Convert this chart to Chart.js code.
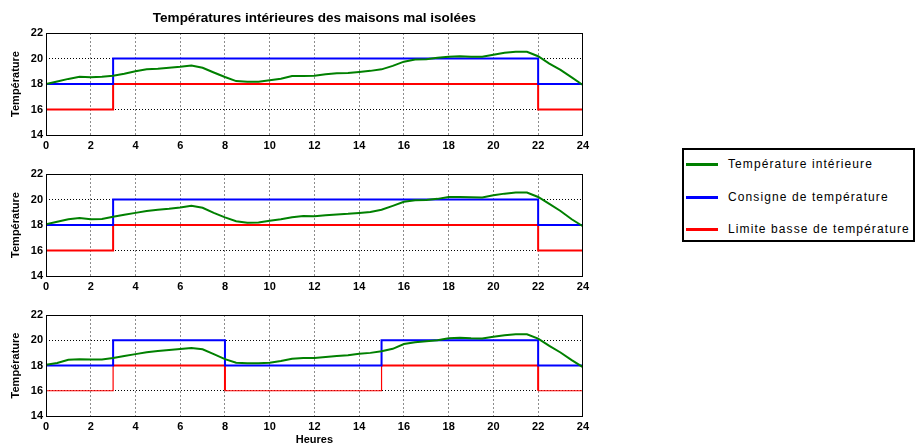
<!DOCTYPE html>
<html><head><meta charset="utf-8">
<script src="https://cdn.jsdelivr.net/npm/chart.js@4/dist/chart.umd.min.js"></script>
<style>
html,body{margin:0;padding:0;background:#fff;overflow:hidden;width:916px;height:443px;position:relative}
canvas{position:absolute;left:0}
#c1{top:0}#c2{top:164px}#c3{top:305px}
#legend{position:absolute;left:682px;top:148px;width:229px;height:90px;border:2px solid #000;background:#fff;font:12px "Liberation Sans",Arial,sans-serif;color:#000;letter-spacing:1.1px}
.item{position:absolute;left:0;width:229px;height:14px}
.sw{position:absolute;left:2px;top:6px;width:32px;height:3px}
.lbl{position:absolute;left:44px;top:0;line-height:14px;white-space:nowrap}
</style></head>
<body>
<canvas id="c1" width="593" height="155"></canvas>
<canvas id="c2" width="593" height="132"></canvas>
<canvas id="c3" width="593" height="145"></canvas>
<div id="legend"></div>
<script>
const titre = 'Températures intérieures des maisons mal isolées';
const axeY = 'Température';
const axeX = 'Heures';
const seriesNames = ['Température intérieure', 'Consigne de température', 'Limite basse de température'];
const seriesColors = ['#008000', '#0000ff', '#ff0000'];
const heureTicks = [0,2,4,6,8,10,12,14,16,18,20,22,24];
const tempTicks = [14,16,18,20,22];

const heures = [0,0.5,1,1.5,2,2.5,3,3.5,4,4.5,5,5.5,6,6.5,7,7.5,8,8.5,9,9.5,10,10.5,11,11.5,12,12.5,13,13.5,14,14.5,15,15.5,16,16.5,17,17.5,18,18.5,19,19.5,20,20.5,21,21.5,22,22.5,23,23.5,24];
const tempInt1 = [18.0,18.2,18.4,18.57,18.52,18.57,18.65,18.8,19.0,19.15,19.2,19.27,19.35,19.45,19.27,18.9,18.55,18.23,18.18,18.18,18.3,18.42,18.62,18.62,18.65,18.77,18.85,18.87,18.95,19.03,19.15,19.42,19.75,19.92,19.95,20.05,20.13,20.18,20.13,20.13,20.3,20.45,20.52,20.52,20.18,19.6,19.1,18.52,17.92];
const tempInt2 = [18.05,18.25,18.45,18.55,18.45,18.48,18.65,18.8,18.95,19.1,19.2,19.28,19.38,19.5,19.35,18.95,18.6,18.3,18.18,18.2,18.33,18.45,18.6,18.7,18.68,18.76,18.83,18.88,18.95,19.02,19.2,19.5,19.82,19.95,19.97,20.05,20.2,20.2,20.18,20.15,20.33,20.46,20.54,20.54,20.2,19.65,19.1,18.45,17.9];
const tempInt3 = [18.05,18.2,18.45,18.5,18.48,18.48,18.6,18.75,18.9,19.05,19.15,19.23,19.3,19.38,19.28,18.9,18.5,18.22,18.17,18.17,18.22,18.35,18.53,18.6,18.6,18.67,18.75,18.82,18.93,19.0,19.13,19.32,19.7,19.85,19.93,20.0,20.15,20.2,20.15,20.13,20.27,20.4,20.47,20.47,20.13,19.55,19.03,18.43,17.87];

const heuresPalier12 = [0,3,22,24];
const consigne12 = [18,20,18,18];
const limite12 = [16,18,16,16];
const heuresPalier3 = [0,3,8,15,22,24];
const consigne3 = [18,20,18,20,18,18];
const limite3 = [16,18,16,18,16,16];

const FONT = '"Liberation Sans", Arial, Helvetica, sans-serif';
const zip = (xs, ys) => xs.map((x, i) => ({x, y: ys[i]}));

const frame = {
  id: 'frame',
  afterDatasetsDraw(c) {
    const {left, top, right, bottom} = c.chartArea;
    const ctx = c.ctx;
    ctx.save();
    ctx.strokeStyle = '#000';
    ctx.lineWidth = 1;
    ctx.strokeRect(Math.round(left) + 0.5, Math.round(top) + 0.5, Math.round(right - left) - 1, Math.round(bottom - top));
    ctx.restore();
  }
};

function makeChart(id, green, hx, cons, lim, o) {
  const redDs = {
    label: seriesNames[2], data: zip(hx, lim), borderColor: seriesColors[2], borderWidth: 2,
    stepped: true, pointRadius: 0
  };
  if (o.thinLow) redDs.segment = {borderWidth: ctx => ctx.p0.parsed.y === 16 ? 1.2 : 2};
  return new Chart(document.getElementById(id), {
    type: 'line',
    data: {
      datasets: [
        {label: seriesNames[0], data: zip(heures, green), borderColor: seriesColors[0], borderWidth: 2, pointRadius: 0, tension: 0},
        {label: seriesNames[1], data: zip(hx, cons), borderColor: seriesColors[1], borderWidth: 2, stepped: true, pointRadius: 0},
        redDs
      ]
    },
    options: {
      responsive: false, animation: false, devicePixelRatio: 1,
      layout: {padding: {top: o.padTop, left: 0, right: 10, bottom: 0}},
      plugins: {
        legend: {display: false}, tooltip: {enabled: false},
        title: o.title ? {display: true, text: titre, fullSize: false, color: '#000',
          font: {family: FONT, size: 13.5, weight: 'bold'}, padding: {top: 10, bottom: 6.8}} : {display: false}
      },
      scales: {
        x: {
          type: 'linear', min: 0, max: 24,
          afterBuildTicks: s => { s.ticks = heureTicks.map(v => ({value: v})); },
          afterFit: s => { s.height = o.xh; },
          grid: {color: '#8c8c8c', lineWidth: 1, drawTicks: false},
          border: {display: false, dash: [2, 2]},
          ticks: {padding: 4, color: '#000', maxRotation: 0, autoSkip: false, font: {family: FONT, size: 11, weight: 'bold'}},
          title: o.xTitle ? {display: true, text: axeX, color: '#000', font: {family: FONT, size: 11, weight: 'bold'}, padding: {top: 0, bottom: 3.4}} : {display: false}
        },
        y: {
          min: 14, max: 22,
          afterBuildTicks: s => { s.ticks = tempTicks.map(v => ({value: v})); },
          afterFit: s => { s.width = 46; },
          grid: {color: '#000', lineWidth: 1, drawTicks: false},
          border: {display: false, dash: [1, 2]},
          ticks: {padding: 3, color: '#000', font: {family: FONT, size: 11, weight: 'bold'}},
          title: {display: true, text: axeY, color: '#000', font: {family: FONT, size: 11, weight: 'bold'}, padding: {top: 9, bottom: 0}}
        }
      }
    },
    plugins: [frame]
  });
}

makeChart('c1', tempInt1, heuresPalier12, consigne12, limite12, {title: true, padTop: 0, xh: 20});
makeChart('c2', tempInt2, heuresPalier12, consigne12, limite12, {padTop: 10, xh: 20});
makeChart('c3', tempInt3, heuresPalier3, consigne3, limite3, {padTop: 10, xh: 34, xTitle: true, thinLow: true});

const lg = document.getElementById('legend');
const ys = [14, 47, 79];
seriesNames.forEach((n, i) => {
  const it = document.createElement('div');
  it.className = 'item';
  it.style.top = (ys[i] - 7) + 'px';
  const sw = document.createElement('div');
  sw.className = 'sw'; sw.style.background = seriesColors[i];
  const lb = document.createElement('div');
  lb.className = 'lbl'; lb.textContent = n;
  it.appendChild(sw); it.appendChild(lb);
  lg.appendChild(it);
});
</script>
</body></html>
